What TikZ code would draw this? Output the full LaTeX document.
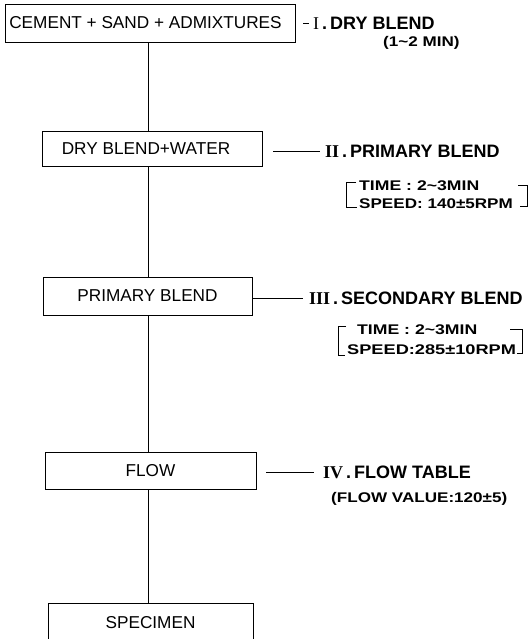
\documentclass[tikz,border=0pt]{standalone}
\usepackage{fontspec}
\setmainfont{Liberation Sans}
\newfontfamily\numfont{Liberation Serif}
\usepackage{graphicx}
\newcommand{\wtxt}[2][1.22]{\scalebox{#1}[1]{#2}}
\begin{document}
\begin{tikzpicture}[x=1pt,y=-1pt,
  boxst/.style={draw,line width=0.9pt,minimum height=36pt,inner sep=0pt,font=\fontsize{17.2}{19}\selectfont},
  lblst/.style={anchor=west,inner sep=0pt,font=\bfseries\fontsize{18}{20}\selectfont},
  subst/.style={anchor=west,inner sep=0pt,font=\bfseries\fontsize{14}{16}\selectfont},
  conn/.style={line width=0.9pt},
  brk/.style={line width=0.8pt}]
\useasboundingbox (0,0) rectangle (530,639);
% boxes
\node[boxst,minimum width=290pt,minimum height=38pt] (b1) at (150,23) {\hspace*{-9pt}CEMENT + SAND + ADMIXTURES};
\node[boxst,minimum width=220pt,minimum height=35pt] (b2) at (152,148.5) {\hspace*{-12pt}DRY BLEND+WATER};
\node[boxst,minimum width=209pt,minimum height=38pt] (b3) at (147.5,296) {PRIMARY BLEND};
\node[boxst,minimum width=211pt,minimum height=37pt] (b4) at (150.5,470.5) {FLOW};
\node[boxst,minimum width=205pt,minimum height=40pt] (b5) at (150.5,623) {SPECIMEN};
% spine
\coordinate (sp) at (148,0);
\draw[conn] (b1.south -| sp) -- (b2.north -| sp);
\draw[conn] (b2.south -| sp) -- (b3.north -| sp);
\draw[conn] (b3.south -| sp) -- (b4.north -| sp);
\draw[conn] (b4.south -| sp) -- (b5.north -| sp);
% I
\node[lblst] (l1) at (313,23) {{\numfont\mdseries I}\,.\,DRY BLEND};
\node[subst] (s1) at (383,43) {\wtxt{(1\textasciitilde 2 MIN)}};
\coordinate (d1) at (303,23);
\draw[conn] (d1) -- ([xshift=-4pt]l1.west);
% II
\node[lblst] (l2) at (325,151) {{\numfont II}\,.\,PRIMARY BLEND};
\draw[conn] ([xshift=11pt]b2.east |- l2) -- ([xshift=-5pt]l2.west);
\node[subst] (t2) at (359,186) {\wtxt[1.26]{TIME : 2\textasciitilde 3MIN}};
\node[subst] (p2) at (359,204) {\wtxt{SPEED: 140\textpm 5RPM}};
\draw[brk] (356,182) -- (346,182) -- (346,207) -- (357,207);
\draw[brk] (518,185) -- (527,185) -- (527,206) -- (520,206);
% III
\node[lblst] (l3) at (309,298) {{\numfont III}\,.\,SECONDARY BLEND};
\draw[conn] ([xshift=1pt]b3.east |- l3) -- ([xshift=-6pt]l3.west);
\node[subst] (t3) at (357,330) {\wtxt[1.26]{TIME : 2\textasciitilde 3MIN}};
\node[subst] (p3) at (347,350) {\wtxt[1.3]{SPEED:285\textpm 10RPM}};
\draw[brk] (346,326) -- (338,326) -- (338,355) -- (345,355);
\draw[brk] (510,329) -- (522,329) -- (522,353) -- (517,353);
% IV
\node[lblst] (l4) at (323,472) {{\numfont IV}\,.\,FLOW TABLE};
\draw[conn] ([xshift=10pt]b4.east |- l4) -- ([xshift=-9pt]l4.west);
\node[subst] (s4) at (331,499) {\wtxt{(FLOW VALUE:120\textpm 5)}};
\end{tikzpicture}
\end{document}
